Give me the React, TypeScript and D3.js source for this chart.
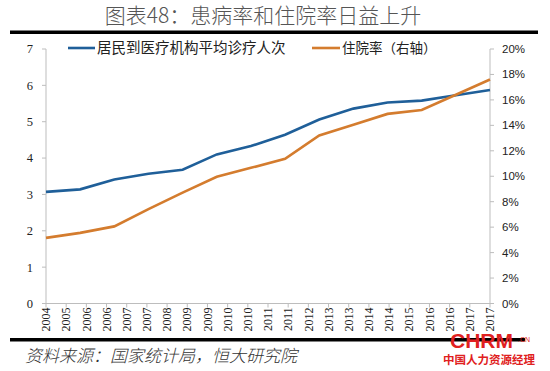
import React from 'react';
import * as d3 from 'd3';

// 数据：2004–2017
const years = [2004, 2005, 2006, 2007, 2008, 2009, 2010, 2011, 2012, 2013, 2014, 2015, 2016, 2017];
const visits = [3.07, 3.14, 3.41, 3.57, 3.68, 4.1, 4.33, 4.64, 5.06, 5.36, 5.53, 5.58, 5.73, 5.87];
const hospRate = [0.0516, 0.0555, 0.0606, 0.0742, 0.0871, 0.0996, 0.1066, 0.1137, 0.1321, 0.1404, 0.149, 0.1521, 0.164, 0.176];

const xTickLabels = ['2004', '2005', '2006', '2006', '2007', '2007', '2008', '2009', '2009', '2010', '2010', '2011',
  '2011', '2012', '2013', '2013', '2014', '2014', '2015', '2016', '2016', '2017', '2017'];
const leftTicks = [0, 1, 2, 3, 4, 5, 6, 7];
const rightTicks = [0, 0.02, 0.04, 0.06, 0.08, 0.1, 0.12, 0.14, 0.16, 0.18, 0.2];

const BLUE = '#1f5f99';
const ORANGE = '#d47c2e';
const AXIS = '#bdbdbd';
const CJK = '"Noto Sans CJK SC", sans-serif';

export default function App() {
  const W = 550, H = 371;
  const x0 = 46, x1 = 490, yTop = 49, yBot = 303.5;

  const x = d3.scaleLinear().domain([years[0], years[years.length - 1]]).range([x0, x1]);
  const xt = d3.scalePoint<number>().domain(xTickLabels.map((_, i) => i)).range([x0, x1]);
  const yL = d3.scaleLinear().domain([0, 7]).range([yBot, yTop]);
  const yR = d3.scaleLinear().domain([0, 0.2]).range([yBot, yTop]);

  const lineL = d3.line<number>().x((_, i) => x(years[i])).y(d => yL(d));
  const lineR = d3.line<number>().x((_, i) => x(years[i])).y(d => yR(d));

  return (
    <svg width={W} height={H} style={{ position: 'absolute', left: 0, top: 0, background: '#fff' }}>
      {/* 标题 */}
      <text x={263} y={23} textAnchor="middle" fontFamily={CJK} fontSize={21} fontWeight={300} fill="#555">
        图表48：患病率和住院率日益上升
      </text>
      <rect x={10} y={30.5} width={528} height={3.5} fill="#000" />

      {/* 坐标轴 */}
      <line x1={x0} x2={x0} y1={yTop} y2={yBot} stroke={AXIS} />
      <line x1={x1} x2={x1} y1={yTop} y2={yBot} stroke={AXIS} />
      <line x1={x0} x2={x1} y1={yBot} y2={yBot} stroke={AXIS} />

      {leftTicks.map(t => (
        <g key={'l' + t}>
          <line x1={x0 - 4} x2={x0} y1={yL(t)} y2={yL(t)} stroke={AXIS} />
          <text x={33} y={yL(t)} dy="0.35em" textAnchor="end" fontFamily='"Liberation Serif", serif' fontSize={12.5} fill="#222">{t}</text>
        </g>
      ))}
      {rightTicks.map(t => (
        <g key={'r' + t}>
          <line x1={x1} x2={x1 + 4} y1={yR(t)} y2={yR(t)} stroke={AXIS} />
          <text x={502} y={yR(t)} dy="0.35em" fontFamily='"Liberation Sans", sans-serif' fontSize={11.5} fill="#222">{d3.format('.0%')(t)}</text>
        </g>
      ))}
      {xTickLabels.map((lab, i) => (
        <g key={'x' + i}>
          <line x1={xt(i)} x2={xt(i)} y1={yBot} y2={yBot + 4} stroke={AXIS} />
          <text transform={`translate(${xt(i)},${yBot + 4}) rotate(-90)`} dy="0.35em" textAnchor="end"
            fontFamily='"Liberation Serif", serif' fontSize={12} fill="#222">{lab}</text>
        </g>
      ))}

      {/* 折线 */}
      <path d={lineL(visits) || ''} fill="none" stroke={BLUE} strokeWidth={2.6} />
      <path d={lineR(hospRate) || ''} fill="none" stroke={ORANGE} strokeWidth={2.6} />

      {/* 图例 */}
      <line x1={68} x2={95} y1={48} y2={48} stroke={BLUE} strokeWidth={2.6} />
      <text x={97} y={48} dy="0.35em" fontFamily={CJK} fontSize={14.5} fill="#222">居民到医疗机构平均诊疗人次</text>
      <line x1={312} x2={340} y1={48} y2={48} stroke={ORANGE} strokeWidth={2.6} />
      <text x={342} y={48} dy="0.35em" fontFamily={CJK} fontSize={13.5} fill="#222">住院率（右轴）</text>

      {/* 底部 */}
      <rect x={10} y={338} width={515} height={3.5} fill="#000" />
      <text x={25} y={362} fontFamily={CJK} fontSize={17} fontStyle="italic" fontWeight={300} fill="#333">资料来源：国家统计局，恒大研究院</text>

      {/* 水印 */}
      <text x={450} y={348} fontFamily='"Liberation Sans", sans-serif' fontWeight="bold" fontSize={21} fill="#e02020">CHRM</text>
      <text x={518} y={342} fontFamily='"Liberation Sans", sans-serif' fontSize={7} fill="#e02020">.CN</text>
      <text x={443} y={364} fontFamily={CJK} fontSize={11.5} fontWeight="bold" fill="#e02020">中国人力资源经理</text>
    </svg>
  );
}
